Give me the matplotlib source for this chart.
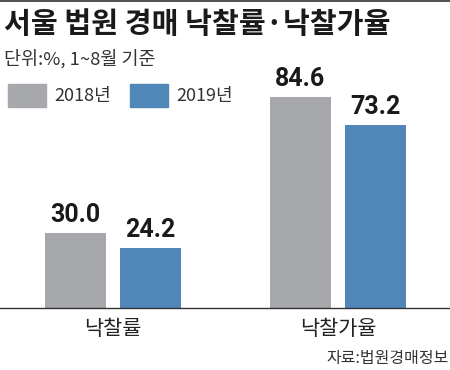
import numpy as np
import matplotlib.pyplot as plt
from matplotlib.lines import Line2D

plt.rcParams['font.family'] = ['Noto Sans CJK KR', 'DejaVu Sans']

categories = ['낙찰률', '낙찰가율']
years = ['2018년', '2019년']
v2018 = [30.0, 84.6]
v2019 = [24.2, 73.2]
colors = ['#a7a8ac', '#5186b8']

fig = plt.figure(figsize=(4.5, 3.7), dpi=100)
ax = fig.add_axes([0, 62 / 370, 1, 308 / 370])

x = np.arange(len(categories))
off = 37.5 / 225
w = 61 / 225
b1 = ax.bar(x - off, v2018, w, color=colors[0])
b2 = ax.bar(x + off, v2019, w, color=colors[1])

for bars in (b1, b2):
    for r in bars:
        ax.annotate(f'{r.get_height():.1f}', (r.get_x() + r.get_width() / 2, r.get_height()),
                    xytext=(0, 4), textcoords='offset points', ha='center', va='bottom',
                    fontsize=18, fontweight='bold', family=['Roboto', 'DejaVu Sans'],
                    color='#1a1a1a')

ax.set_xlim(-113 / 225, 337 / 225)
ax.set_ylim(0, 123.2)
for s in ['top', 'right', 'left']:
    ax.spines[s].set_visible(False)
ax.spines['bottom'].set_color('#333333')
ax.spines['bottom'].set_linewidth(1.0)
ax.set_yticks([])
ax.set_xticks(x)
ax.set_xticklabels(categories, fontsize=15, color='#222222')
ax.tick_params(axis='x', length=0, pad=7)
ax.patch.set_alpha(0)

# top rule
fig.add_artist(Line2D([0, 1], [0.998, 0.998], color='#333333', lw=1.2))

fig.text(4 / 450, 1 - 24 / 370, '서울 법원 경매 낙찰률·낙찰가율', fontsize=21, fontweight='bold',
         va='center', ha='left', color='#1a1a1a')
fig.text(4 / 450, 1 - 59 / 370, '단위:%, 1~8월 기준', fontsize=13.3, va='center', ha='left',
         color='#333333')

# legend
for i, (lab, c) in enumerate(zip(years, colors)):
    x0 = (8 + i * 122) / 450
    fig.patches.append(plt.Rectangle((x0, 1 - 107 / 370), 38 / 450, 23 / 370,
                                     transform=fig.transFigure, color=c, figure=fig))
    fig.text(x0 + 46 / 450, 1 - 96 / 370, lab, fontsize=13, va='center', ha='left',
             color='#333333')

fig.text(449 / 450, 1 - 358 / 370, '자료:법원경매정보', fontsize=11.5, va='center', ha='right',
         color='#333333')

fig.savefig('out.png', dpi=100)
